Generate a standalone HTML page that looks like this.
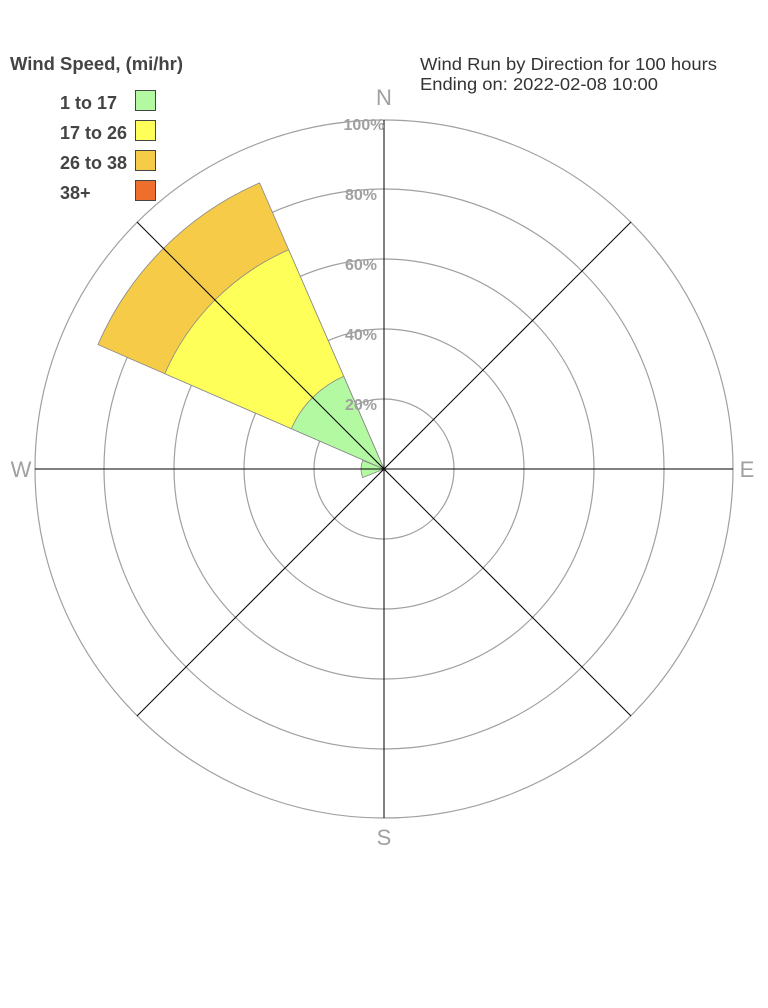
<!DOCTYPE html>
<html><head><style>
html,body{margin:0;padding:0;background:#fff;}
svg{display:block;}
text{font-family:"Liberation Sans",Arial,sans-serif;}
</style></head><body>
<svg width="768" height="1008" xmlns="http://www.w3.org/2000/svg">
<g fill="none" stroke="#a0a0a0" stroke-width="1.2">
<circle cx="384" cy="469" r="70"/>
<circle cx="384" cy="469" r="140"/>
<circle cx="384" cy="469" r="210"/>
<circle cx="384" cy="469" r="280"/>
<circle cx="384" cy="469" r="349"/>
</g>
<g stroke="#888" stroke-width="0.8">
<path d="M97.9,344.6 A312,312 0 0 1 259.6,182.9 L384,469 Z" fill="#f5cb47"/>
<path d="M164.8,373.7 A239,239 0 0 1 288.7,249.8 L384,469 Z" fill="#ffff59"/>
<path d="M291.4,428.7 A101,101 0 0 1 343.7,376.4 L384,469 Z" fill="#b3f9a1"/>
<path d="M362.7,477.6 A23,23 0 0 1 362.7,460.4 L384,469 Z" fill="#b3f9a1"/>
</g>
<g stroke="#000" stroke-width="1">
<line x1="384" y1="120" x2="384" y2="818"/>
<line x1="35" y1="469" x2="733" y2="469"/>
<line x1="137" y1="222" x2="631" y2="716"/>
<line x1="631" y1="222" x2="137" y2="716"/>
</g>
<g fill="#a0a0a0" font-size="16" font-weight="bold" text-anchor="middle">
<text x="364" y="130">100%</text>
<text x="361" y="200">80%</text>
<text x="361" y="270">60%</text>
<text x="361" y="340">40%</text>
<text x="361" y="410">20%</text>
</g>
<g fill="#a0a0a0" font-size="22" text-anchor="middle">
<text x="384" y="105">N</text>
<text x="384" y="845">S</text>
<text x="21" y="477">W</text>
<text x="747" y="477">E</text>
</g>
<g fill="#333" font-size="17.6">
<text x="420" y="70" textLength="297" lengthAdjust="spacingAndGlyphs">Wind Run by Direction for 100 hours</text>
<text x="420" y="90" textLength="238" lengthAdjust="spacingAndGlyphs">Ending on: 2022-02-08 10:00</text>
</g>
<g fill="#444" font-size="18" font-weight="bold">
<text x="10" y="70" textLength="173" lengthAdjust="spacingAndGlyphs">Wind Speed, (mi/hr)</text>
<text x="60" y="109">1 to 17</text>
<text x="60" y="139">17 to 26</text>
<text x="60" y="169">26 to 38</text>
<text x="60" y="199">38+</text>
</g>
<g stroke="#444" stroke-width="1">
<rect x="135.5" y="90.5" width="20" height="20" fill="#b3f9a1"/>
<rect x="135.5" y="120.5" width="20" height="20" fill="#ffff59"/>
<rect x="135.5" y="150.5" width="20" height="20" fill="#f5cb47"/>
<rect x="135.5" y="180.5" width="20" height="20" fill="#ee6e2c"/>
</g>
</svg>
</body></html>
